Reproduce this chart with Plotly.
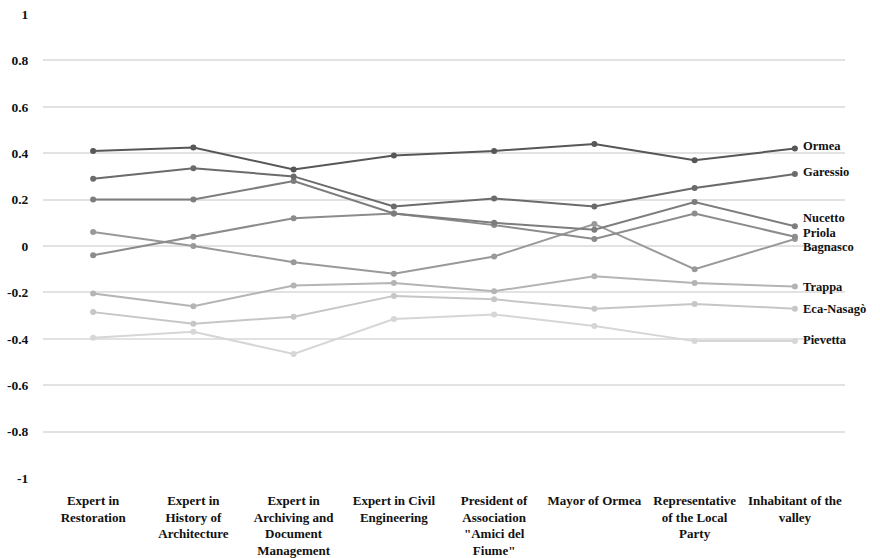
import plotly.graph_objects as go

# Stakeholder categories (x axis)
categories = [
    "Expert in<br>Restoration",
    "Expert in<br>History of<br>Architecture",
    "Expert in<br>Archiving and<br>Document<br>Management",
    "Expert in Civil<br>Engineering",
    "President of<br>Association<br>\"Amici del<br>Fiume\"",
    "Mayor of Ormea",
    "Representative<br>of the Local<br>Party",
    "Inhabitant of the<br>valley",
]

# Scores per municipality
ormea    = [0.41, 0.425, 0.33, 0.39, 0.41, 0.44, 0.37, 0.42]
garessio = [0.29, 0.335, 0.30, 0.17, 0.205, 0.17, 0.25, 0.31]
nucetto  = [0.20, 0.20, 0.28, 0.14, 0.10, 0.07, 0.19, 0.085]
priola   = [-0.04, 0.04, 0.12, 0.14, 0.09, 0.03, 0.14, 0.04]
bagnasco = [0.06, 0.00, -0.07, -0.12, -0.045, 0.095, -0.10, 0.03]
trappa   = [-0.205, -0.26, -0.17, -0.16, -0.195, -0.13, -0.16, -0.175]
eca      = [-0.285, -0.335, -0.305, -0.215, -0.23, -0.27, -0.25, -0.27]
pievetta = [-0.395, -0.37, -0.465, -0.315, -0.295, -0.345, -0.41, -0.41]

ytick_vals = [1, 0.8, 0.6, 0.4, 0.2, 0, -0.2, -0.4, -0.6, -0.8, -1]
ytick_text = ["1", "0.8", "0.6", "0.4", "0.2", "0", "-0.2", "-0.4", "-0.6", "-0.8", "-1"]

# (name, values, colour, vertical nudge of the end label in px)
series = [
    ("Ormea", ormea, "#575757", 3),
    ("Garessio", garessio, "#6b6b6b", 2),
    ("Nucetto", nucetto, "#7d7d7d", 8),
    ("Priola", priola, "#8c8c8c", 4),
    ("Bagnasco", bagnasco, "#999999", -8),
    ("Trappa", trappa, "#b4b4b4", 0),
    ("Eca-Nasagò", eca, "#c6c6c6", 0),
    ("Pievetta", pievetta, "#d6d6d6", 1),
]

serif = "Liberation Serif, Times New Roman, serif"

fig = go.Figure()
annotations = []
for name, vals, color, dy in reversed(series):
    fig.add_trace(go.Scatter(
        x=list(range(len(categories))), y=vals, name=name,
        mode="lines+markers",
        line=dict(color=color, width=2),
        marker=dict(color=color, size=6),
        showlegend=False,
    ))
    annotations.append(dict(
        x=len(categories) - 1, y=vals[-1], xref="x", yref="y",
        text="<b>%s</b>" % name, showarrow=False,
        xanchor="left", yanchor="middle", xshift=6, yshift=dy,
        font=dict(family=serif, size=12.5, color="#111111"),
    ))

fig.update_layout(
    width=880, height=558,
    margin=dict(l=43, r=35, t=14, b=80),
    paper_bgcolor="white", plot_bgcolor="white",
    annotations=annotations,
    font=dict(family=serif, size=12, color="#111111"),
)
fig.update_xaxes(
    tickmode="array",
    tickvals=list(range(len(categories))),
    ticktext=["<b>%s</b>" % c for c in categories],
    range=[-0.5, len(categories) - 0.5],
    showgrid=False, zeroline=False, showline=False,
    ticks="outside", ticklen=10, tickcolor="rgba(0,0,0,0)",
    tickfont=dict(family=serif, size=13, color="#111111"),
    tickangle=0, automargin=False,
)
fig.update_yaxes(
    range=[-1, 1],
    tickmode="array", tickvals=ytick_vals,
    ticktext=["<b>%s</b>" % t for t in ytick_text],
    showgrid=True, gridcolor="#e2e2e2", gridwidth=1.5,
    zeroline=False, showline=False,
    ticks="outside", ticklen=11, tickcolor="rgba(0,0,0,0)",
    tickfont=dict(family=serif, size=13.5, color="#111111"),
    automargin=False,
)

fig.write_html("out.html")
